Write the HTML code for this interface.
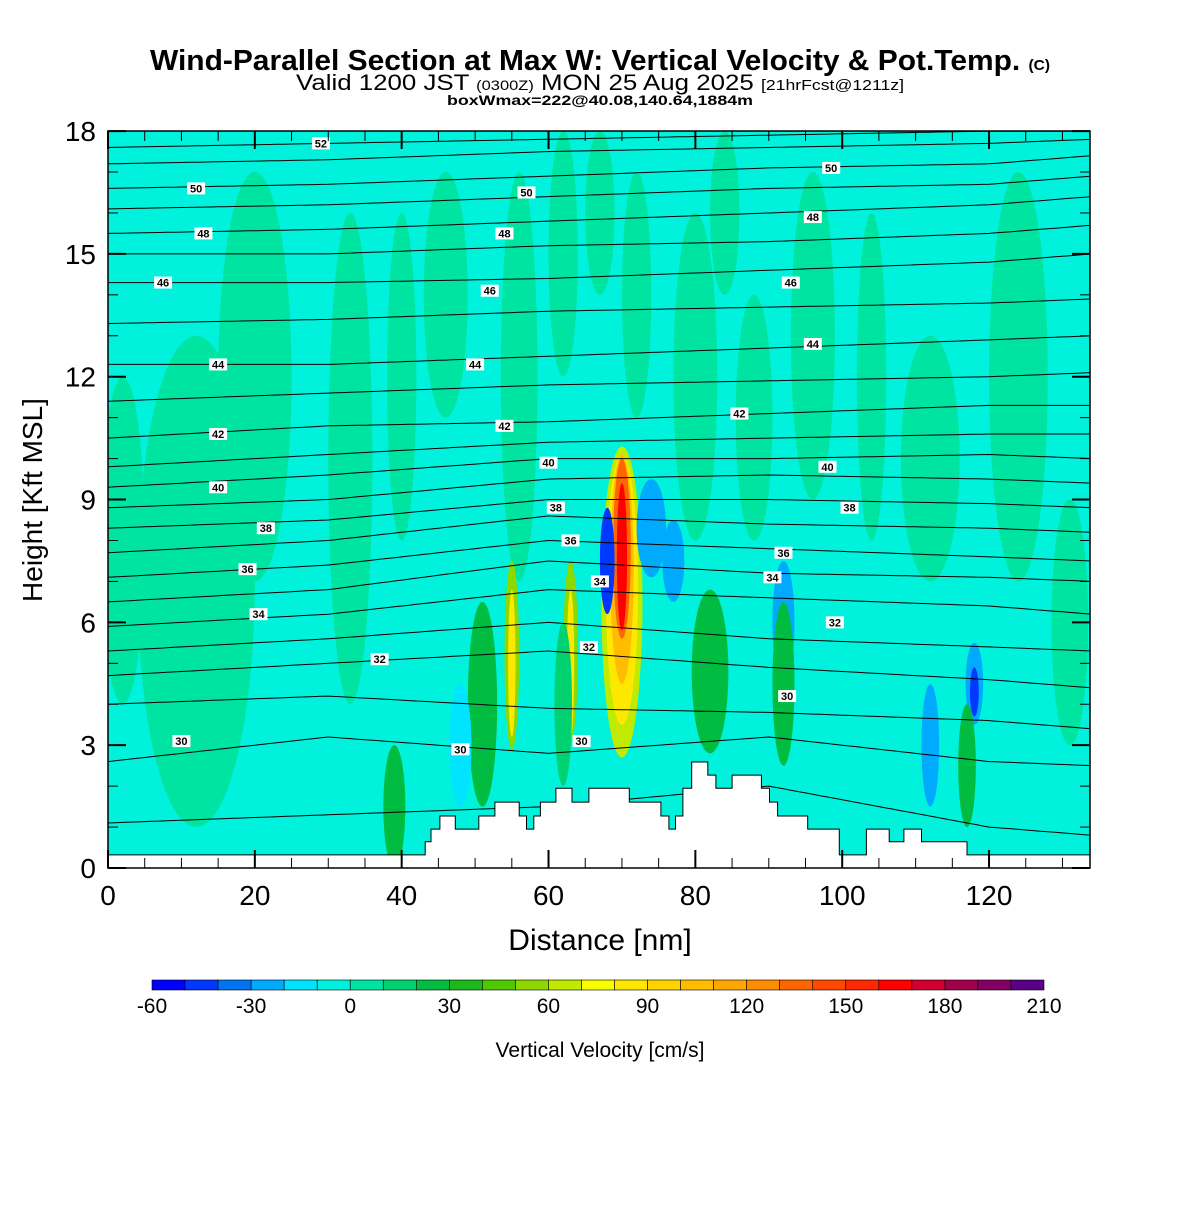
<!DOCTYPE html>
<html><head><meta charset="utf-8"><style>
body{margin:0;background:#fff;font-family:"Liberation Sans",sans-serif}
svg text{font-family:"Liberation Sans",sans-serif}
</style></head><body>
<svg id="c" width="1200" height="1200" viewBox="0 0 1200 1200" xmlns="http://www.w3.org/2000/svg">
<defs><clipPath id="pc"><rect x="108" y="131" width="982" height="737"/></clipPath></defs>
<text x="600" y="70" text-anchor="middle" font-size="29" font-weight="bold" textLength="900" lengthAdjust="spacingAndGlyphs">Wind-Parallel Section at Max W: Vertical Velocity &amp; Pot.Temp. <tspan font-size="15">(C)</tspan></text>
<text x="600" y="90" text-anchor="middle" font-size="22" textLength="608" lengthAdjust="spacingAndGlyphs">Valid 1200 JST <tspan font-size="14">(0300Z)</tspan> MON 25 Aug 2025 <tspan font-size="15">[21hrFcst@1211z]</tspan></text>
<text x="600" y="105" text-anchor="middle" font-size="14" font-weight="bold" textLength="306" lengthAdjust="spacingAndGlyphs">boxWmax=222@40.08,140.64,1884m</text>
<g id="plot" clip-path="url(#pc)"></g>
<rect x="108" y="131" width="982" height="737" fill="none" stroke="#000" stroke-width="1.5"/>
<g id="axes"></g>
<text x="600" y="950" text-anchor="middle" font-size="30">Distance [nm]</text>
<text transform="translate(42,500) rotate(-90)" text-anchor="middle" font-size="28">Height [Kft MSL]</text>
<g id="cbar"></g>
<text x="600" y="1057" text-anchor="middle" font-size="21">Vertical Velocity [cm/s]</text>
</svg>
<script>
const NS="http://www.w3.org/2000/svg";
const cbColors=["#0000FF","#0038FF","#0074F2","#00AAFF","#00E4FF","#00F2DC","#00E4A2","#00D272","#00BC40","#1CB81C","#50C800","#8CD800","#C0EA00","#F8FF00","#FFE800","#FFD200","#FFBC00","#FFA600","#FF8C00","#FF6600","#FF4800","#FF2800","#FF0000","#D20030","#A0004C","#820064","#5A0088"];
const cbTicks=[-60,-30,0,30,60,90,120,150,180,210];
const xTicks=[0,20,40,60,80,100,120];
const yTicks=[0,3,6,9,12,15,18];
const terrX=[0,40,43.2,44,45.2,47.3,50.5,52.7,56,57,58,58.9,61,63.2,65.5,71,75.3,76.4,77.3,78.3,79.5,81.7,82.8,85,89,90.1,91.2,95.3,99.6,103.3,106.4,108.4,110.8,115,117,119.7];
const terrH=[0.32,0.32,0.64,0.95,1.27,0.95,1.27,1.61,1.27,0.95,1.27,1.61,1.95,1.61,1.95,1.61,1.27,0.95,1.27,1.95,2.59,2.27,1.95,2.27,1.95,1.61,1.27,0.95,0.32,0.95,0.64,0.95,0.64,0.64,0.32,0.32];
const thX=[0,30,60,90,120,134];
const thLevels=[29,30,31,32,33,34,35,36,37,38,39,40,41,42,43,44,45,46,47,48,49,50,51,52];
const thH=[[1.1,1.3,1.5,2.0,1.0,0.8],[2.6,3.2,2.8,3.2,2.6,2.5],[4.0,4.2,3.9,3.8,3.6,3.4],[4.7,5.0,5.3,4.9,4.6,4.4],[5.3,5.6,6.0,5.6,5.4,5.3],[5.9,6.2,6.8,6.6,6.4,6.2],[6.5,6.8,7.5,7.2,7.1,7.0],[7.1,7.4,8.0,7.8,7.6,7.5],[7.7,8.0,8.6,8.4,8.3,8.2],[8.3,8.5,9.0,9.0,8.9,8.8],[8.8,9.0,9.5,9.6,9.5,9.4],[9.3,9.6,10.0,10.0,10.1,10.0],[9.8,10.1,10.4,10.5,10.6,10.6],[10.5,10.8,10.9,11.1,11.3,11.3],[11.4,11.6,11.8,11.9,12.0,12.1],[12.3,12.3,12.5,12.7,12.9,13.0],[13.3,13.4,13.6,13.7,13.8,13.9],[14.3,14.3,14.4,14.6,14.8,15.0],[15.0,15.0,15.2,15.3,15.5,15.7],[15.5,15.6,15.8,16.0,16.2,16.4],[16.1,16.2,16.4,16.6,16.7,16.9],[16.6,16.7,16.9,17.1,17.2,17.4],[17.2,17.3,17.5,17.6,17.7,17.8],[17.6,17.7,17.8,17.9,18.0,18.0]];
const lblText=["52","50","48","46","44","42","40","38","36","34","32","30","50","48","46","44","42","40","38","36","34","32","30","30","30","42","40","38","36","34","32","50","48","46","44"];
const lblX=[29,12,13,7.5,15,15,15,21.5,19,20.5,37,10,57,54,52,50,54,60,61,63,67,65.5,48,64.5,92.5,86,98,101,92,90.5,99,98.5,96,93,96];
const lblH=[17.7,16.6,15.5,14.3,12.3,10.6,9.3,8.3,7.3,6.2,5.1,3.1,16.5,15.5,14.1,12.3,10.8,9.9,8.8,8.0,7.0,5.4,2.9,3.1,4.2,11.1,9.8,8.8,7.7,7.1,6.0,17.1,15.9,14.3,12.8];
const blobX=[12,20,33,46,56,62,67,72,80,88,96,104,112,124,131,2,40,84, 55,63,70,70,70,70,70, 55,63, 68,74,77,92,112,118,118, 82,92,117,39,51,62,48];
const blobH=[7,12,10,14,12,15,16,14,12,11,13,12,10,12,6,8,12,16, 5.2,5.3,6.5,6.8,7.3,7.8,7.6, 5,5, 7.5,8.3,7.5,6,3,4.5,4.3, 4.8,4.5,2.5,1.5,4,4,3];
const blobRX=[8,5,3,3,2.5,2,2,2,3,2.5,3,2,4,4,2.5,3,2,2, 1,1,2.8,2.2,1.6,1.2,0.7, 0.5,0.5, 1,2,1.5,1.5,1.2,1.2,0.6, 2.5,1.5,1.2,1.5,2,1.2,1.5];
const blobRH=[6,5,6,3,5,3,2,3,4,3,4,4,3,5,3,4,4,2, 2.3,2.2,3.8,3.3,2.8,2.2,1.8, 1.8,1.8, 1.3,1.2,1.0,1.5,1.5,1.0,0.6, 2,2,1.5,1.5,2.5,2,1.5];
const blobV=[5,5,5,5,5,5,5,5,5,5,5,5,5,5,5,5,5,5, 55,55,65,85,105,135,165, 85,85, -45,-25,-25,-25,-25,-25,-45, 25,25,25,25,25,15,-15];

const X=d=>108+d*7.342, Y=h=>868-h*40.94;
function el(t,a,p){const e=document.createElementNS(NS,t);for(const k in a)e.setAttribute(k,a[k]);p.appendChild(e);return e;}
function colorFor(v){let i=Math.floor((v+60)/10);i=Math.max(0,Math.min(26,i));return cbColors[i];}
const plot=document.getElementById('plot');
const bg=el('rect',{x:108,y:131,width:982,height:737,fill:cbColors[5]},plot);


for(let i=0;i<blobX.length;i++){
  const e=el('ellipse',{cx:X(blobX[i]),cy:Y(blobH[i]),rx:blobRX[i]*7.342,ry:blobRH[i]*40.94,fill:colorFor(blobV[i])},plot);
  
  
}
function interp(arr,x){for(let i=0;i<thX.length-1;i++){if(x<=thX[i+1]){const t=(x-thX[i])/(thX[i+1]-thX[i]);return arr[i]+(arr[i+1]-arr[i])*t;}}return arr[arr.length-1];}
for(let k=0;k<thLevels.length;k++){
  let d='';
  for(let x=0;x<=134;x+=1){
    let h=interp(thH[k],x);
    d+=(x?'L':'M')+X(x).toFixed(1)+','+Y(h).toFixed(1);
  }
  const p=el('path',{d:d,fill:'none',stroke:'#000','stroke-width':1},plot);
  
  
}
let td='M'+X(0)+','+Y(0);
for(let i=0;i<terrX.length;i++){td+='L'+X(terrX[i]).toFixed(1)+','+Y(i?terrH[i-1]:0).toFixed(1)+'L'+X(terrX[i]).toFixed(1)+','+Y(terrH[i]).toFixed(1);}
td+='L'+X(134)+','+Y(terrH[terrH.length-1])+'L'+X(134)+','+Y(0)+'Z';
const terr=el('path',{d:td,fill:'#fff',stroke:'#000','stroke-width':1},plot);


for(let i=0;i<lblText.length;i++){
  const g=el('g',{},plot);
  
  
  el('rect',{x:X(lblX[i])-9,y:Y(lblH[i])-6,width:18,height:12,fill:'#fff'},g);
  const t=el('text',{x:X(lblX[i]),y:Y(lblH[i])+4,'text-anchor':'middle','font-size':11,'font-weight':'bold'},g);
  t.textContent=lblText[i];
}
const ax=document.getElementById('axes');
xTicks.forEach(v=>{
  el('line',{x1:X(v),x2:X(v),y1:868,y2:850,stroke:'#000','stroke-width':2},ax);
  el('line',{x1:X(v),x2:X(v),y1:131,y2:149,stroke:'#000','stroke-width':2},ax);
  const t=el('text',{x:X(v),y:905,'text-anchor':'middle','font-size':28},ax);
  
  
  t.textContent=v;
});
for(let v=5;v<134;v+=5){if(v%20){el('line',{x1:X(v),x2:X(v),y1:868,y2:858,stroke:'#000'},ax);el('line',{x1:X(v),x2:X(v),y1:131,y2:141,stroke:'#000'},ax);}}
yTicks.forEach(v=>{
  el('line',{x1:108,x2:126,y1:Y(v),y2:Y(v),stroke:'#000','stroke-width':2},ax);
  el('line',{x1:1072,x2:1090,y1:Y(v),y2:Y(v),stroke:'#000','stroke-width':2},ax);
  const t=el('text',{x:96,y:Y(v)+10,'text-anchor':'end','font-size':28},ax);
  
  
  t.textContent=v;
});
for(let v=1;v<18;v++){if(v%3){el('line',{x1:108,x2:118,y1:Y(v),y2:Y(v),stroke:'#000'},ax);el('line',{x1:1080,x2:1090,y1:Y(v),y2:Y(v),stroke:'#000'},ax);}}
const cb=document.getElementById('cbar');
const cw=892/cbColors.length;
cbColors.forEach((c,i)=>{
  const r=el('rect',{x:152+i*cw,y:980,width:cw,height:10,fill:c,stroke:'#000','stroke-width':0.6},cb);
  
  
});
cbTicks.forEach(v=>{
  const t=el('text',{x:152+(v+60)/10*cw,y:1013,'text-anchor':'middle','font-size':21},cb);
  
  
  t.textContent=v;
});
</script>
</body></html>
